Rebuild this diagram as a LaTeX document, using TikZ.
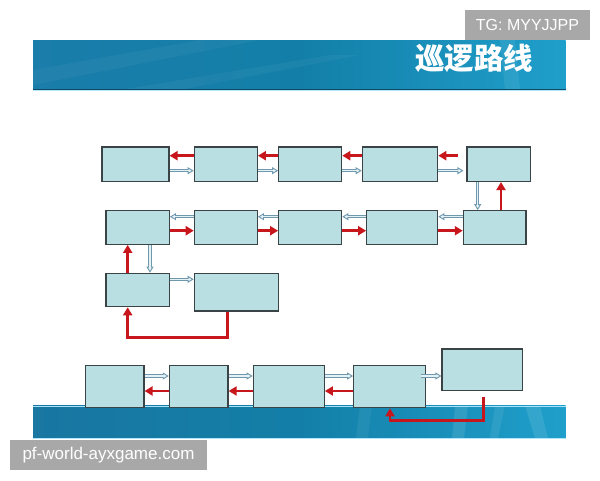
\documentclass[tikz,border=0pt]{standalone}
\usepackage{fontspec}
\setmainfont{Liberation Sans}
\newfontfamily\cjk{Noto Sans CJK SC}
\usetikzlibrary{arrows.meta,calc}
\definecolor{boxfill}{HTML}{B9DFE2}
\definecolor{boxline}{HTML}{3A4447}
\definecolor{arrred}{HTML}{C8161D}
\definecolor{bluedark}{HTML}{6F98AC}
\definecolor{bluelight}{HTML}{E4F2F6}
\definecolor{bandA}{HTML}{1A7DAA}
\definecolor{bandB}{HTML}{137FA8}
\definecolor{bandC}{HTML}{1F9FCB}
\definecolor{tggray}{HTML}{A8A8A8}
\tikzset{
  box/.style={rectangle, draw=boxline, fill=boxfill, line width=1.2pt, inner sep=0pt},
  redarr/.style={draw=arrred, line width=2.8pt, -{Triangle[length=8pt,width=9pt]}},
  redpath/.style={draw=arrred, line width=2.6pt, -{Triangle[length=8pt,width=9pt]}},
  bluearr/.style={draw=bluedark, line width=3.2pt,
    -{Triangle[length=6pt,width=7pt,line width=0.9pt,fill=bluelight]},
    postaction={draw=bluelight, line width=1.3pt, shorten >=4pt, -}},
  tag/.style={fill=tggray, text=white, inner sep=0pt}
}
\begin{document}
\begin{tikzpicture}[x=1pt,y=-1pt]
\useasboundingbox (0,0) rectangle (600,480);
\fill[white] (0,0) rectangle (600,480);
% header band
\shade[left color=bandA, right color=bandC, middle color=bandB] (33,40) rectangle (565.7,90);
\fill[white, opacity=0.04] (33,70) -- (200,40) -- (260,40) -- (33,85) -- cycle;
\fill[white, opacity=0.04] (120,90) -- (330,55) -- (360,55) -- (180,90) -- cycle;
\fill[white, opacity=0.07] (500,40) -- (515,40) -- (520,90) -- (505,90) -- cycle;
\draw[color=bandA!60!black, line width=0.8pt] (33,89) -- (565.7,89);
\draw[color=cyan!30, line width=0.6pt] (33,90.3) -- (565.7,90.3);
\node[text=white, font=\cjk\bfseries\fontsize{29.5}{30}\selectfont] (title) at (474,58.5) {巡逻路线};
% bottom band
\shade[left color=bandA!95!black, right color=bandC, middle color=bandB] (33,405.7) rectangle (565.7,438);
\fill[white, opacity=0.10] (455,405.7) -- (468,405.7) -- (464,438) -- (452,438) -- cycle;
\fill[white, opacity=0.08] (495,405.7) -- (505,405.7) -- (498,438) -- (490,438) -- cycle;
\fill[white, opacity=0.10] (525,405.7) -- (540,405.7) -- (548,438) -- (535,438) -- cycle;
\fill[white, opacity=0.06] (360,405.7) -- (372,405.7) -- (368,438) -- (356,438) -- cycle;
\draw[color=cyan!35, line width=0.8pt] (33,405.9) -- (565.7,405.9);
\draw[color=cyan!30, line width=0.6pt] (33,438) -- (565.7,438);
% row 1
\node[box, minimum width=67pt, minimum height=34.5pt] (a1) at (135.5,164.2) {};
\node[box, minimum width=63pt, minimum height=34.5pt] (a2) at (225.8,164.2) {};
\node[box, minimum width=63pt, minimum height=34.5pt] (a3) at (310.2,164.2) {};
\node[box, minimum width=75.4pt, minimum height=34.5pt] (a4) at (400,164.2) {};
\node[box, minimum width=63.3pt, minimum height=34.5pt] (a5) at (498.7,164.2) {};
% row 2
\node[box, minimum width=63.3pt, minimum height=33.6pt] (b1) at (137.7,227.5) {};
\node[box, minimum width=63pt, minimum height=33.6pt] (b2) at (225.8,227.5) {};
\node[box, minimum width=63pt, minimum height=33.6pt] (b3) at (310.2,227.5) {};
\node[box, minimum width=71pt, minimum height=33.6pt] (b4) at (402.2,227.5) {};
\node[box, minimum width=62.7pt, minimum height=33.6pt] (b5) at (494.7,227.5) {};
% row 3
\node[box, minimum width=63.3pt, minimum height=33.4pt] (c1) at (137.7,290) {};
\node[box, minimum width=84.4pt, minimum height=37.7pt] (c2) at (236.5,292.2) {};
% row 4
\node[box, minimum width=58.3pt, minimum height=42pt] (d1) at (114.8,386.7) {};
\node[box, minimum width=58.7pt, minimum height=42pt] (d2) at (198.7,386.7) {};
\node[box, minimum width=71pt, minimum height=42pt] (d3) at (288.8,386.7) {};
\node[box, minimum width=71.6pt, minimum height=42pt] (d4) at (389.5,386.7) {};
\node[box, minimum width=80.3pt, minimum height=41.7pt] (d5) at (482.2,369.8) {};
% row 1 connectors
\draw[redarr] ([yshift=8.5pt]a2.west) -- ([yshift=8.5pt]a1.east);
\draw[redarr] ([yshift=8.5pt]a3.west) -- ([yshift=8.5pt]a2.east);
\draw[redarr] ([yshift=8.5pt]a4.west) -- ([yshift=8.5pt]a3.east);
\draw[redarr] ([xshift=-8pt,yshift=8.5pt]a5.west) -- ([yshift=8.5pt]a4.east);
\draw[bluearr] ([yshift=-6.5pt]a1.east) -- ([yshift=-6.5pt]a2.west);
\draw[bluearr] ([yshift=-6.5pt]a2.east) -- ([yshift=-6.5pt]a3.west);
\draw[bluearr] ([yshift=-6.5pt]a3.east) -- ([yshift=-6.5pt]a4.west);
\draw[bluearr] ([yshift=-6.5pt]a4.east) -- ([xshift=-3pt,yshift=-6.5pt]a5.west);
% vertical A5/B5
\draw[bluearr] ([xshift=-21pt]a5.south) -- ([xshift=-21pt]a5.south |- b5.north);
\draw[redarr] ([xshift=6.3pt]b5.north) -- ([xshift=6.3pt]b5.north |- a5.south);
% row 2 connectors
\draw[bluearr] ([yshift=10.8pt]b2.west) -- ([yshift=10.8pt]b1.east);
\draw[bluearr] ([yshift=10.8pt]b3.west) -- ([yshift=10.8pt]b2.east);
\draw[bluearr] ([yshift=10.8pt]b4.west) -- ([yshift=10.8pt]b3.east);
\draw[bluearr] ([yshift=10.8pt]b5.west) -- ([yshift=10.8pt]b4.east);
\draw[redarr] ([yshift=-3.2pt]b1.east) -- ([yshift=-3.2pt]b2.west);
\draw[redarr] ([yshift=-3.2pt]b2.east) -- ([yshift=-3.2pt]b3.west);
\draw[redarr] ([yshift=-3.2pt]b3.east) -- ([yshift=-3.2pt]b4.west);
\draw[redarr] ([yshift=-3.2pt]b4.east) -- ([yshift=-3.2pt]b5.west);
% B1/C1/C2
\draw[bluearr] ([xshift=12.3pt]b1.south) -- ([xshift=12.3pt]b1.south |- c1.north);
\draw[redarr] ([xshift=-10pt]c1.north) -- ([xshift=-10pt]c1.north |- b1.south);
\draw[bluearr] ([yshift=10.7pt]c1.east) -- ([yshift=10.7pt]c1.east -| c2.west);
\draw[redpath] ([xshift=-8.8pt]c2.south) -- ++(0,25.7) -| ([xshift=-10pt]c1.south);
% row 4 connectors
\draw[bluearr] ([yshift=10.7pt]d1.east) -- ([yshift=10.7pt]d2.west);
\draw[bluearr] ([yshift=10.7pt]d2.east) -- ([yshift=10.7pt]d3.west);
\draw[bluearr] ([yshift=10.7pt]d3.east) -- ([yshift=10.7pt]d4.west);
\draw[bluearr] ([xshift=-5pt,yshift=10.7pt]d4.east) -- ([yshift=-6.2pt]d5.west);
\draw[redarr] ([yshift=-4.3pt]d2.west) -- ([yshift=-4.3pt]d1.east);
\draw[redarr] ([yshift=-4.3pt]d3.west) -- ([yshift=-4.3pt]d2.east);
\draw[redarr] ([yshift=-4.3pt]d4.west) -- ([yshift=-4.3pt]d3.east);
\draw[redpath] ([xshift=1.1pt,yshift=-5.3pt]d5.south) -- ++(0,24) -| ([xshift=0.5pt]d4.south);
% tags
\node[tag, minimum width=125pt, minimum height=30pt, font=\fontsize{16}{16}\selectfont] (tg) at (527.5,25) {TG: MYYJJPP};
\node[tag, minimum width=197pt, minimum height=30pt, font=\fontsize{17}{17}\selectfont] (pf) at (108.5,455) {pf-world-ayxgame.com};
\end{tikzpicture}
\end{document}
